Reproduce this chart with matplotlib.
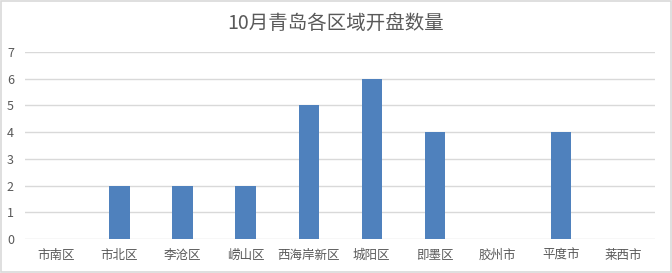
import matplotlib
matplotlib.use('Agg')
import matplotlib.pyplot as plt
from matplotlib.patches import Rectangle

plt.rcParams['font.family'] = ['Noto Sans CJK SC', 'DejaVu Sans']

# data
districts = ['市南区', '市北区', '李沧区', '崂山区', '西海岸新区',
             '城阳区', '即墨区', '胶州市', '平度市', '莱西市']
counts = [0, 2, 2, 2, 5, 6, 4, 0, 4, 0]
y_ticks = [0, 1, 2, 3, 4, 5, 6, 7]

text_color = '#595959'
grid_color = '#d9d9d9'

fig = plt.figure(figsize=(6.72, 2.73), dpi=100)
ax = fig.add_axes([0.0372, 0.1245, 0.9378, 0.685])

x = list(range(len(districts)))
ax.bar(x, counts, width=0.32, color='#4f81bd', zorder=3)

ax.set_xlim(-0.5, len(districts) - 0.5)
ax.set_ylim(0, 7)
ax.set_yticks(y_ticks)
ax.set_xticks(x)
ax.set_xticklabels(districts)

ax.grid(axis='y', color=grid_color, linewidth=1, zorder=0)
for s in ax.spines.values():
    s.set_visible(False)
ax.tick_params(axis='both', length=0, colors=text_color, labelsize=9)
ax.tick_params(axis='x', pad=7)
ax.tick_params(axis='y', pad=13)
for lbl in ax.get_yticklabels():
    lbl.set_horizontalalignment('left')

fig.text(0.5, 0.915, '10月青岛各区域开盘数量', ha='center', va='center',
         fontsize=14, color=text_color)

# outer border
fig.patches.append(Rectangle((0.002, 0.004), 0.996, 0.992, transform=fig.transFigure,
                             fill=False, edgecolor=grid_color, linewidth=1.2))

fig.savefig('out.png', dpi=100)
